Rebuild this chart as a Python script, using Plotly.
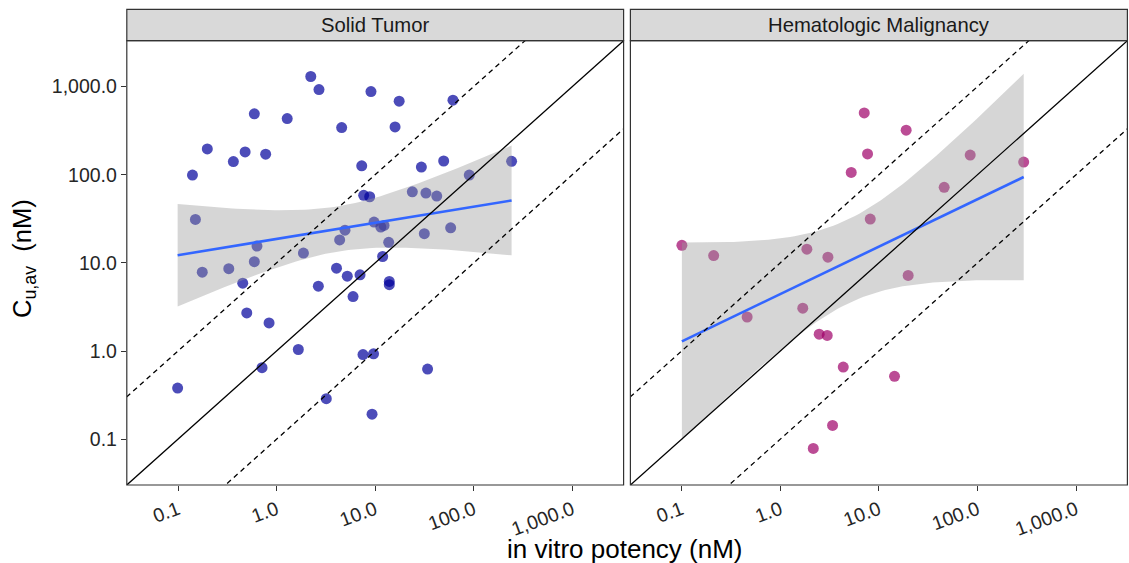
import numpy as np
import plotly.graph_objects as go

# ---------------- data ----------------
panel_titles = ["Solid Tumor", "Hematologic Malignancy"]

solid_potency = [2.22, 2.69, 9.06, 0.594, 1.28, 4.57, 0.198, 0.364, 0.479, 0.774,
                 0.140, 7.30, 7.64, 8.79, 0.150, 4.94, 4.36, 0.632, 1.87, 0.594,
                 0.327, 4.05, 9.73, 11.4, 12.3, 17.5, 61.5, 15.9, 29.4, 49.5,
                 242.0, 90.0, 23.8, 32.7, 42.1, 13.7, 11.9, 31.5, 58.3, 0.176,
                 0.453, 5.21, 7.02, 2.65, 5.96, 0.498, 0.838, 1.66, 7.52, 9.62,
                 0.711, 0.099, 3.19, 9.29, 13.9, 13.9, 34.0]
solid_cuav = [1300, 925, 877, 490, 433, 342, 196, 141, 181, 171,
              99, 126, 58.4, 56.2, 31.1, 23.5, 18.2, 15.5, 12.9, 10.3,
              8.59, 8.71, 29.0, 25.5, 26.6, 682, 700, 348, 122, 143,
              142, 99, 64, 61.9, 57.3, 17.1, 11.8, 21.4, 25.0, 7.84,
              5.88, 7.06, 7.31, 5.43, 4.15, 2.70, 2.08, 1.04, 0.91, 0.93,
              0.647, 0.380, 0.288, 0.192, 6.15, 5.65, 0.624]

heme_potency = [7.10, 7.67, 5.24, 8.17, 0.1005, 0.211, 1.86, 3.04, 18.9, 84.3,
                294.0, 45.9, 0.461, 1.69, 2.48, 2.99, 4.35, 3.39, 2.16, 19.8, 14.4]
heme_cuav = [502, 172, 106, 31.4, 15.8, 12.1, 14.3, 11.6, 320, 167,
             139, 72, 2.43, 3.06, 1.55, 1.50, 0.658, 0.143, 0.0784, 7.19, 0.516]

tick_vals = [0.1, 1, 10, 100, 1000]
tick_text = ["0.1", "1.0", "10.0", "100.0", "1,000.0"]

# ---------------- helpers ----------------
def t975(df):
    z = 1.959963985
    return (z + (z**3 + z) / (4 * df) + (5 * z**5 + 16 * z**3 + 3 * z) / (96 * df**2)
            + (3 * z**7 + 19 * z**5 + 17 * z**3 - 15 * z) / (384 * df**3))


def lm_band(x, y, n=80):
    lx = np.log10(np.asarray(x, float))
    ly = np.log10(np.asarray(y, float))
    N = len(lx)
    b1, b0 = np.polyfit(lx, ly, 1)
    grid = np.linspace(lx.min(), lx.max(), n)
    fit = b0 + b1 * grid
    resid = ly - (b0 + b1 * lx)
    s = np.sqrt(np.sum(resid**2) / (N - 2))
    se = s * np.sqrt(1.0 / N + (grid - lx.mean())**2 / np.sum((lx - lx.mean())**2))
    t = t975(N - 2)
    return 10**grid, 10**fit, 10**(fit - t * se), 10**(fit + t * se)


FONT = "Liberation Sans, Arial, sans-serif"
LOG_RANGE = [-1.52, 3.52]
point_colors = ["rgb(0,0,155)", "rgb(158,0,104)"]
datasets = [(solid_potency, solid_cuav), (heme_potency, heme_cuav)]

fig = go.Figure()

for i, (xs, ys) in enumerate(datasets):
    xa = "x" if i == 0 else "x2"
    ya = "y" if i == 0 else "y2"
    # points
    fig.add_trace(go.Scatter(x=xs, y=ys, mode="markers", xaxis=xa, yaxis=ya,
                             marker=dict(size=11, color=point_colors[i], opacity=0.7,
                                         line=dict(width=0)),
                             showlegend=False, hoverinfo="skip"))
    # smooth (lm) ribbon + line
    gx, gy, lo, hi = lm_band(xs, ys)
    fig.add_trace(go.Scatter(x=np.concatenate([gx, gx[::-1]]),
                             y=np.concatenate([hi, lo[::-1]]),
                             mode="lines", fill="toself", xaxis=xa, yaxis=ya,
                             fillcolor="rgba(153,153,153,0.4)", line=dict(width=0),
                             showlegend=False, hoverinfo="skip"))
    fig.add_trace(go.Scatter(x=gx, y=gy, mode="lines", xaxis=xa, yaxis=ya,
                             line=dict(color="#3366FF", width=2.6),
                             showlegend=False, hoverinfo="skip"))
    # reference lines y = x, y = 10x, y = x/10
    lx0, lx1 = 10**(LOG_RANGE[0] - 1.5), 10**(LOG_RANGE[1] + 1.5)
    for fac, dash in [(1, "solid"), (10, "5px,4px"), (0.1, "5px,4px")]:
        fig.add_trace(go.Scatter(x=[lx0, lx1], y=[lx0 * fac, lx1 * fac], mode="lines",
                                 xaxis=xa, yaxis=ya,
                                 line=dict(color="black", width=1.3, dash=dash),
                                 showlegend=False, hoverinfo="skip"))

Y0, Y1 = 78 / 563, 522.3 / 563
X_DOMS = [[126.8 / 1129, 623.6 / 1129], [630.4 / 1129, 1127.4 / 1129]]

axis_common = dict(type="log", range=LOG_RANGE, showgrid=False, zeroline=False,
                   showline=False, ticks="outside", ticklen=5, tickwidth=1.1,
                   tickcolor="#333333", tickvals=tick_vals, ticktext=tick_text,
                   tickfont=dict(family=FONT, size=19.5, color="#262626"))

fig.update_layout(
    width=1129, height=563, margin=dict(l=0, r=0, t=0, b=0),
    paper_bgcolor="white", plot_bgcolor="white",
    xaxis=dict(domain=X_DOMS[0], anchor="y", tickangle=-20, **axis_common),
    xaxis2=dict(domain=X_DOMS[1], anchor="y2", tickangle=-20, **axis_common),
    yaxis=dict(domain=[Y0, Y1], anchor="x", **axis_common),
    yaxis2=dict(domain=[Y0, Y1], anchor="x2", matches="y", **{**axis_common, "showticklabels": False, "ticks": ""}),
)

strip_h = 31.4 / 444.3
shapes = []
annotations = []
for i, title in enumerate(panel_titles):
    xr = "x domain" if i == 0 else "x2 domain"
    yr = "y domain" if i == 0 else "y2 domain"
    shapes.append(dict(type="rect", xref=xr, yref=yr, x0=0, x1=1, y0=0, y1=1,
                       line=dict(color="#333333", width=1.2), fillcolor="rgba(0,0,0,0)",
                       layer="above"))
    shapes.append(dict(type="rect", xref=xr, yref=yr, x0=0, x1=1, y0=1, y1=1 + strip_h,
                       line=dict(color="#333333", width=1.2), fillcolor="#D9D9D9",
                       layer="above"))
    annotations.append(dict(text=title, xref=xr, yref=yr, x=0.5, y=1 + strip_h / 2,
                            showarrow=False, xanchor="center", yanchor="middle",
                            font=dict(family=FONT, size=20.3, color="#1A1A1A")))

annotations.append(dict(text="in vitro potency (nM)", xref="paper", yref="paper",
                        x=625 / 1129, y=(563 - 549) / 563, showarrow=False,
                        xanchor="center", yanchor="middle",
                        font=dict(family=FONT, size=26, color="black")))
annotations.append(dict(text="C<sub>u,av</sub>  (nM)", xref="paper", yref="paper",
                        x=24 / 1129, y=(563 - 259) / 563, showarrow=False, textangle=-90,
                        xanchor="center", yanchor="middle",
                        font=dict(family=FONT, size=25.5, color="black")))

fig.update_layout(shapes=shapes, annotations=annotations)

fig.write_html("out.html")
